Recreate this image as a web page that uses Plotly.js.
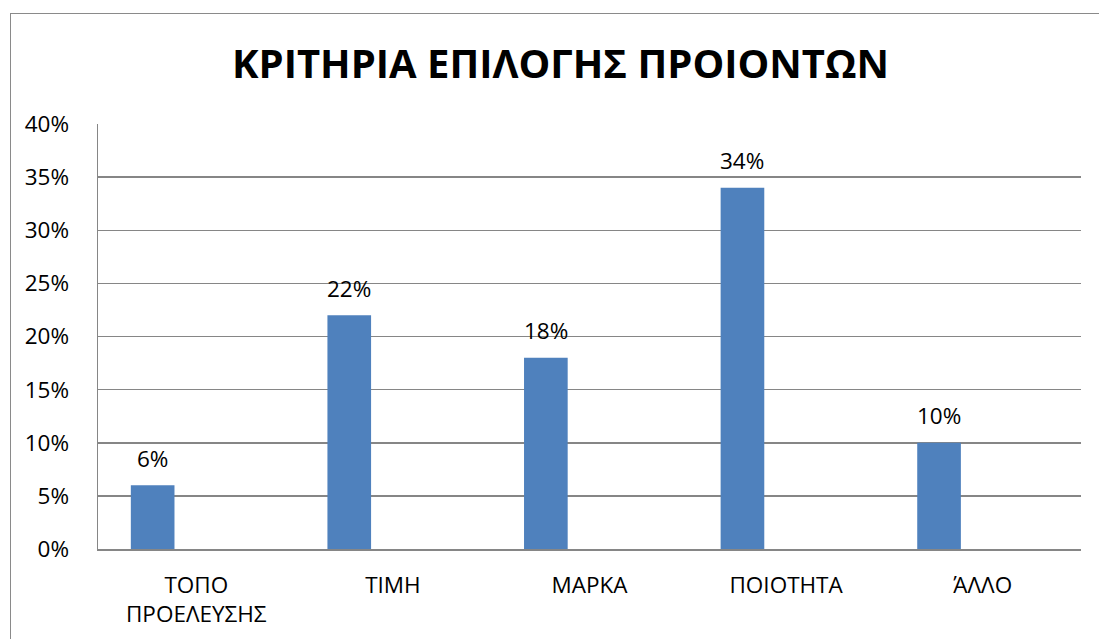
<!DOCTYPE html>
<html>
<head>
<meta charset="utf-8">
<script src="https://cdn.plot.ly/plotly-3.0.1.min.js"></script>
<style>
  html, body { margin: 0; padding: 0; background: #fff; }
  #wrap { position: relative; width: 1099px; height: 639px; overflow: hidden; }
  #chart { width: 1099px; height: 639px; }
  #frame { position: absolute; left: 10px; top: 13px; width: 1200px; height: 800px;
           border: 1.5px solid #8a8a8a; pointer-events: none; box-sizing: border-box; }
</style>
</head>
<body>
<div id="wrap">
  <div id="chart"></div>
  <div id="frame"></div>
</div>
<script>
const chartTitle = "ΚΡΙΤΗΡΙΑ ΕΠΙΛΟΓΗΣ ΠΡΟΙΟΝΤΩΝ";
const categories = ["ΤΟΠΟ ΠΡΟΕΛΕΥΣΗΣ", "ΤΙΜΗ", "ΜΑΡΚΑ", "ΠΟΙΟΤΗΤΑ", "ΆΛΛΟ"];
const tickLabels = ["ΤΟΠΟ<br>ΠΡΟΕΛΕΥΣΗΣ", "ΤΙΜΗ", "ΜΑΡΚΑ", "ΠΟΙΟΤΗΤΑ", "ΆΛΛΟ"];
const values = [0.06, 0.22, 0.18, 0.34, 0.10];
const valueLabels = ["6%", "22%", "18%", "34%", "10%"];

const font = "Open Sans, Noto Sans, sans-serif";
const barColor = "#4F81BD";
const gridColor = "#868686";
const textSize = 22.5;

const trace = {
  type: "bar",
  x: categories,
  y: values,
  width: 0.222,
  offset: -0.333,
  marker: { color: barColor },
  hoverinfo: "x+y"
};

const annotations = categories.map((c, i) => ({
  x: c, y: values[i], xref: "x", yref: "y",
  text: valueLabels[i], showarrow: false,
  xshift: -43.7, yshift: 27, yanchor: "middle",
  font: { family: font, size: textSize, color: "#000" }
}));

const layout = {
  width: 1099, height: 639,
  margin: { l: 98, r: 18, t: 124, b: 90 },
  paper_bgcolor: "#fff", plot_bgcolor: "#fff",
  showlegend: false,
  title: {
    text: "<b>" + chartTitle + "</b>",
    font: { family: font, size: 40, color: "#000" },
    x: 0.51, xref: "container", xanchor: "center",
    y: 1 - 64 / 639, yref: "container", yanchor: "middle"
  },
  xaxis: {
    type: "category",
    tickmode: "array", tickvals: categories, ticktext: tickLabels,
    showline: true, linecolor: gridColor, linewidth: 1.5,
    showgrid: false, ticks: "", ticklabelstandoff: 15,
    tickfont: { family: font, size: textSize, color: "#000" },
    fixedrange: true
  },
  yaxis: {
    range: [0, 0.4], dtick: 0.05, tick0: 0, tickformat: ".0%",
    showline: true, linecolor: gridColor, linewidth: 1.5,
    showgrid: true, gridcolor: gridColor, gridwidth: 1.5,
    zeroline: false, ticks: "", ticklabelstandoff: 23,
    tickfont: { family: font, size: textSize, color: "#000" },
    fixedrange: true
  },
  annotations: annotations
};

Plotly.newPlot("chart", [trace], layout, { displayModeBar: false, staticPlot: true });
</script>
</body>
</html>
